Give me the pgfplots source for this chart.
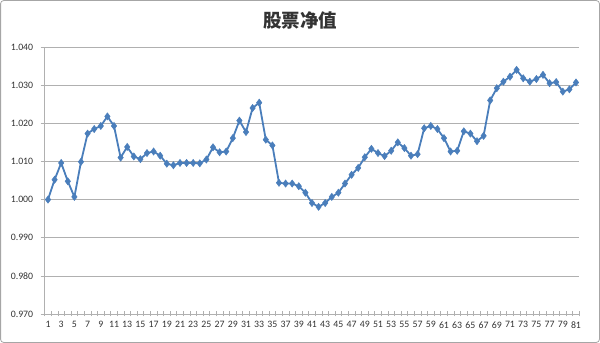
\documentclass[border=0pt]{standalone}
\usepackage{fontspec}
\setmainfont{Carlito}
\newfontfamily\cjk{Noto Sans CJK SC}
\usepackage{pgfplots}
\pgfplotsset{compat=1.18}
\definecolor{excelblue}{HTML}{4A7EBB}
\definecolor{gridgray}{HTML}{B0B0B0}
\begin{document}
\begin{tikzpicture}
\path[use as bounding box] (0,0) rectangle (600bp,343bp);
\draw[gray!70, line width=0.8bp, rounded corners=3bp] (0.6bp,0.6bp) rectangle (599.4bp,342.4bp);
\node[font=\cjk\bfseries\fontsize{18.5bp}{21bp}\selectfont, anchor=center, text=black!80] at (300bp,322.5bp) {股票净值};
\begin{axis}[
  at={(44.7bp,29bp)}, anchor=south west,
  scale only axis, width=534.6bp, height=267bp,
  xmin=0.5, xmax=81.5, ymin=0.97, ymax=1.04,
  axis x line*=bottom, axis y line*=left,
  axis line style={gridgray, line width=0.8bp, -},
  xtick={1,3,...,81},
  minor xtick={0.5,1.5,...,81.5},
  ytick={0.97,0.98,...,1.04},
  ymajorgrids, major grid style={gridgray, line width=0.7bp},
  xmajorgrids=false,
  major x tick style={draw=none},
  minor x tick style={gridgray, line width=0.6bp},
  major y tick style={gridgray, line width=0.7bp},
  xtick align=center, ytick align=outside,
  minor tick length=5bp,
  major tick length=4bp,
  tick label style={font=\fontsize{9.8bp}{11bp}\selectfont, text=black!80},
  /pgf/number format/assume math mode=true,
  yticklabel style={/pgf/number format/fixed, /pgf/number format/fixed zerofill, /pgf/number format/precision=3, xshift=-4bp},
  xticklabel style={yshift=-2bp},
  scaled y ticks=false,
  clip=false,
]
\addplot[color=excelblue, line width=1.8bp, mark=diamond*, mark size=3.6bp, mark options={solid, fill=excelblue, draw=excelblue, line width=0.5bp}] coordinates {
(1,1.0000) (2,1.0052) (3,1.0096) (4,1.0048) (5,1.0007) (6,1.0099) (7,1.0173) (8,1.0185) (9,1.0193) (10,1.0218)
(11,1.0193) (12,1.0110) (13,1.0138) (14,1.0113) (15,1.0106) (16,1.0122) (17,1.0126) (18,1.0115) (19,1.0094) (20,1.0090)
(21,1.0096) (22,1.0096) (23,1.0096) (24,1.0095) (25,1.0105) (26,1.0137) (27,1.0124) (28,1.0126) (29,1.0161) (30,1.0207)
(31,1.0177) (32,1.0240) (33,1.0254) (34,1.0157) (35,1.0142) (36,1.0044) (37,1.0042) (38,1.0042) (39,1.0035) (40,1.0018)
(41,0.9991) (42,0.9981) (43,0.9991) (44,1.0007) (45,1.0018) (46,1.0042) (47,1.0065) (48,1.0083) (49,1.0111) (50,1.0133)
(51,1.0122) (52,1.0114) (53,1.0128) (54,1.0150) (55,1.0135) (56,1.0115) (57,1.0119) (58,1.0187) (59,1.0193) (60,1.0185)
(61,1.0161) (62,1.0126) (63,1.0128) (64,1.0179) (65,1.0173) (66,1.0153) (67,1.0167) (68,1.0260) (69,1.0292) (70,1.0309)
(71,1.0322) (72,1.0340) (73,1.0318) (74,1.0309) (75,1.0316) (76,1.0327) (77,1.0305) (78,1.0308) (79,1.0283) (80,1.0289)
(81,1.0307)
};
\end{axis}
\end{tikzpicture}
\end{document}
